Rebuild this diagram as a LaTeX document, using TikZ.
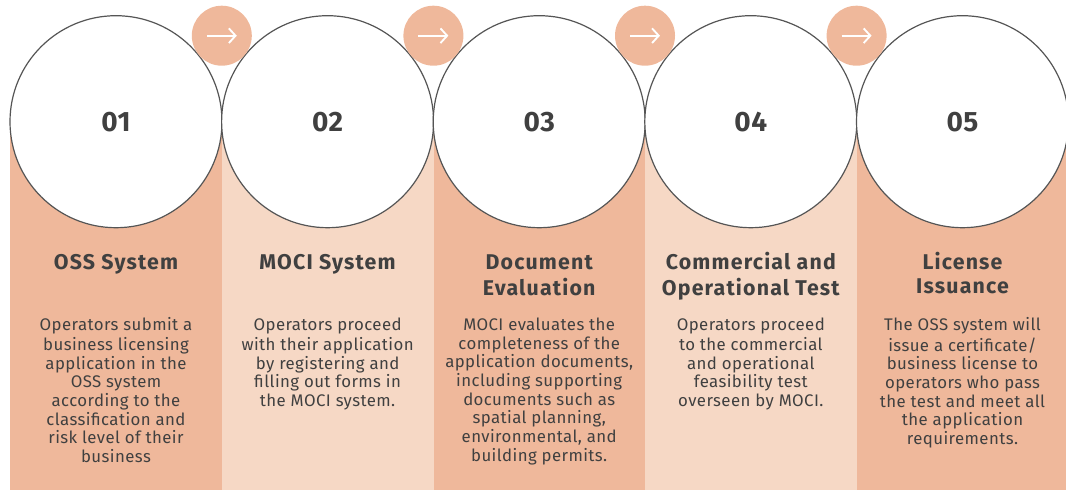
\documentclass[tikz,border=0pt]{standalone}
\usepackage{fontspec}
\setmainfont{Fira Sans}
\newfontfamily\bodyfont{Fira Sans}[LetterSpace=2.5]
\newfontfamily\headfont{Fira Sans Bold}[LetterSpace=5.5]
\newfontfamily\numfont{Fira Sans Bold}[LetterSpace=2]
\usetikzlibrary{arrows.meta}
\definecolor{darkband}{HTML}{EFB89B}
\definecolor{lightband}{HTML}{F6D8C5}
\definecolor{txt}{HTML}{404040}
\definecolor{ring}{HTML}{555555}
\tikzset{
  band/.style={fill=#1, draw=none},
  bigcirc/.style={circle, fill=white, draw=ring, line width=0.9pt, minimum size=159pt, inner sep=0pt},
  numtxt/.style={font=\numfont\fontsize{21}{24}\selectfont, text=txt},
  arrowcirc/.style={circle, fill=darkband, draw=none, minimum size=45pt, inner sep=0pt},
  arrowline/.style={draw=white, line width=1.4pt, -{Straight Barb[length=5pt,width=11pt,line width=1.4pt]}},
  titletxt/.style={anchor=north, align=center, inner sep=0pt, font=\headfont\fontsize{16}{18}\selectfont, text=txt},
  bodytxt/.style={anchor=north, align=center, inner sep=0pt, font=\bodyfont\fontsize{12.6}{14}\selectfont, text=txt},
}
\begin{document}
\begin{tikzpicture}[x=0.75pt,y=-0.75pt]
\useasboundingbox (0,0) rectangle (1066,490);
\clip (0,0) rectangle (1066,490);
% bands
\path[band=darkband] (10,122) rectangle (222,490);
\path[band=lightband] (222,122) rectangle (433.5,490);
\path[band=darkband] (433.5,122) rectangle (645,490);
\path[band=lightband] (645,122) rectangle (857,490);
\path[band=darkband] (857,122) rectangle (1066,490);
% big circles
\node[bigcirc] (c1) at (116,121.7) {};
\node[bigcirc] (c2) at (327.6,121.7) {};
\node[bigcirc] (c3) at (539.2,121.7) {};
\node[bigcirc] (c4) at (750.8,121.7) {};
\node[bigcirc] (c5) at (962.5,121.7) {};
\node[numtxt] (n1) at (c1.center) {01};
\node[numtxt] (n2) at (c2.center) {02};
\node[numtxt] (n3) at (c3.center) {03};
\node[numtxt] (n4) at (c4.center) {04};
\node[numtxt] (n5) at (c5.center) {05};
% arrow circles
\foreach \i/\x in {1/221.8, 2/433.4, 3/645, 4/856.6}{
  \node[arrowcirc] (a\i) at (\x,35.7) {};
  \coordinate (s\i) at ([xshift=-15*0.75pt]a\i.center);
  \coordinate (e\i) at ([xshift=15*0.75pt]a\i.center);
  \draw[arrowline] (s\i) -- (e\i);
}
% titles
\node[titletxt] (t1) at (116,252.3) {\strut OSS System};
\node[titletxt] (t2) at (327.6,252.3) {\strut MOCI System};
\node[titletxt] (t3) at (539.2,252.3) {\strut Document\\Evaluation};
\node[titletxt] (t4) at (750.8,252.3) {\strut Commercial and\\Operational Test};
\node[titletxt] (t5) at (962.5,252.3) {\strut License\\Issuance};
% bodies
\node[bodytxt] (b1) at (116,317.2) {\strut Operators submit a\\business licensing\\application in the\\OSS system\\according to the\\classification and\\risk level of their\\business};
\node[bodytxt] (b2) at (327.6,317.2) {\strut Operators proceed\\with their application\\by registering and\\filling out forms in\\the MOCI system.};
\node[bodytxt] (b3) at (539.2,317.2) {\strut MOCI evaluates the\\completeness of the\\application documents,\\including supporting\\documents such as\\spatial planning,\\environmental, and\\building permits.};
\node[bodytxt] (b4) at (750.8,317.2) {\strut Operators proceed\\to the commercial\\and operational\\feasibility test\\overseen by MOCI.};
\node[bodytxt] (b5) at (962.5,317.2) {\strut The OSS system will\\issue a certificate/\\business license to\\operators who pass\\the test and meet all\\the application\\requirements.};
\end{tikzpicture}
\end{document}
